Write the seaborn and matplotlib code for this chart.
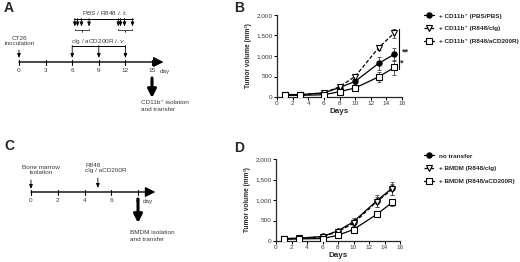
import numpy as np
import pandas as pd
import matplotlib
matplotlib.use("Agg")
import matplotlib.pyplot as plt
import seaborn as sns
from matplotlib.lines import Line2D

sns.set_style("ticks")
plt.rcParams['font.family'] = ['Liberation Sans', 'DejaVu Sans']

# ---------------- data ----------------
days = [1, 3, 6, 8, 10, 13, 15]

b_labels = ["+ CD11b\u207a (PBS/PBS)", "+ CD11b\u207a (R848/cIg)", "+ CD11b\u207a (R848/aCD200R)"]
b_pbs = [60, 60, 100, 230, 380, 820, 1040]
b_pbs_err = [15, 15, 20, 30, 60, 150, 150]
b_cig = [50, 55, 100, 250, 500, 1200, 1560]
b_cig_err = [10, 10, 15, 30, 50, 60, 110]
b_cd200 = [40, 40, 55, 130, 220, 490, 720]
b_cd200_err = [10, 10, 15, 25, 40, 120, 180]

d_labels = ["no transfer", "+ BMDM (R848/cIg)", "+ BMDM (R848/aCD200R)"]
d_none = [60, 70, 110, 250, 470, 980, 1290]
d_none_err = [15, 15, 20, 40, 90, 150, 160]
d_cig = [55, 65, 100, 230, 430, 960, 1260]
d_cig_err = [10, 10, 15, 30, 60, 120, 130]
d_cd200 = [40, 50, 60, 140, 280, 650, 940]
d_cd200_err = [10, 10, 15, 20, 30, 60, 80]

a_ticks = [0, 3, 6, 9, 12, 15]
a_iv_days = [6, 9, 12]
a_it_days = [6.3, 6.6, 7.05, 7.9, 11.2, 11.45, 11.9, 12.8]
c_ticks = [0, 2, 4, 6, 8]

yticks = [0, 500, 1000, 1500, 2000]
ytick_labels = ["0", "500", "1,000", "1,500", "2,000"]
xticks = list(range(0, 17, 2))

W, H = 520, 262
fig = plt.figure(figsize=(W / 100, H / 100), dpi=100)

FS = 4.6
TXT = "#3a3a3a"
markers = ["o", "v", "s"]
mfcs = ["black", "white", "white"]
lss = ["-", (0, (3, 1.6)), "-"]

def px_rect(l, t, r, b):
    return [l / W, 1 - b / H, (r - l) / W, (b - t) / H]

def growth_panel(rect, series, errs, labels, leg_y):
    ax = fig.add_axes(rect)
    for i, (vals, err, lab) in enumerate(zip(series, errs, labels)):
        df = pd.DataFrame({"Days": days, "vol": vals})
        ax.errorbar(days, vals, yerr=err, fmt="none", ecolor="#444444",
                    elinewidth=0.6, capsize=1.5, capthick=0.6, zorder=2)
        sns.lineplot(data=df, x="Days", y="vol", ax=ax, color="black",
                     linewidth=0.9, marker=markers[i], markersize=3.8,
                     markerfacecolor=mfcs[i], markeredgecolor="black",
                     markeredgewidth=0.8, zorder=3)
        ax.lines[-1].set_linestyle(lss[i])
    ax.set_xlim(0, 16)
    ax.set_ylim(0, 2000)
    ax.set_xticks(xticks)
    ax.set_yticks(yticks)
    ax.set_yticklabels(ytick_labels)
    ax.tick_params(labelsize=FS, length=2, width=0.7, pad=1, colors="black",
                   labelcolor=TXT)
    for s in ["left", "bottom"]:
        ax.spines[s].set_linewidth(0.9)
    sns.despine(ax=ax)
    ax.set_xlabel("Days", fontsize=5.8, fontweight="bold", labelpad=1.5)
    ax.set_ylabel("Tumor volume (mm\u00b3)", fontsize=4.7, fontweight="bold", labelpad=3)
    handles = [Line2D([0], [0], color="black", lw=0.9, ls=lss[i], marker=markers[i],
                      markersize=3.8, markerfacecolor=mfcs[i], markeredgecolor="black",
                      markeredgewidth=0.8) for i in range(3)]
    fig.legend(handles, labels, loc="upper left",
               bbox_to_anchor=(421 / W, 1 - leg_y / H), frameon=False,
               prop={"size": 4.6, "weight": "bold"}, handlelength=1.6,
               handletextpad=0.7, labelspacing=1.15, borderpad=0)
    return ax

axB = growth_panel(px_rect(277, 15, 402, 97), [b_pbs, b_cig, b_cd200],
                   [b_pbs_err, b_cig_err, b_cd200_err], b_labels, 10)
axD = growth_panel(px_rect(276, 159, 400, 241), [d_none, d_cig, d_cd200],
                   [d_none_err, d_cig_err, d_cd200_err], d_labels, 150)

# significance marks in B
axB.plot([15.6, 15.6], [1650, 680], color="black", lw=0.8, clip_on=False)
axB.text(16.0, 1100, "**", fontsize=6.5, fontweight="bold", ha="left", va="center")
axB.text(15.75, 830, "*", fontsize=6.5, fontweight="bold", ha="left", va="center")

# ---------------- timelines ----------------
def timeline_axes(rect, d0px, dpx, top, bottom):
    ax = fig.add_axes(rect)
    l = rect[0] * W
    r = (rect[0] + rect[2]) * W
    ax.set_xlim((l - d0px) / dpx, (r - d0px) / dpx)
    ax.set_ylim(bottom, top)
    ax.axis("off")
    return ax

def down_arrow(ax, x, y0, y1, big=False):
    if big:
        ax.annotate("", xy=(x, y1), xytext=(x, y0),
                    arrowprops=dict(arrowstyle="-|>,head_length=0.5,head_width=0.25",
                                    lw=2.2, color="black", shrinkA=0, shrinkB=0))
    else:
        ax.annotate("", xy=(x, y1), xytext=(x, y0),
                    arrowprops=dict(arrowstyle="-|>,head_length=0.25,head_width=0.1",
                                    lw=0.6, color="black", shrinkA=0, shrinkB=0))

# Panel A
axA = timeline_axes([0, 0.5, 0.5, 0.5], 19, 133 / 15, 0, 131)
ya = 62
axA.annotate("", xy=(16.3, ya), xytext=(0, ya),
             arrowprops=dict(arrowstyle="-|>,head_length=0.6,head_width=0.3",
                             lw=1.0, color="black", shrinkA=0, shrinkB=0))
for t in a_ticks:
    axA.plot([t, t], [ya - 2.5, ya + 2.5], color="black", lw=0.8)
    axA.text(t, 71, str(t), fontsize=FS, ha="center", va="center", color=TXT)
axA.text(15.9, 71, "day", fontsize=FS, ha="left", va="center", color=TXT)
axA.text(0.1, 41, "CT26\ninoculation", fontsize=FS, ha="center", va="center",
         color=TXT, linespacing=1.1)
down_arrow(axA, 0, 50, 58)
# i.v.
axA.text(9, 41, "cIg / aCD200R $i.v.$", fontsize=FS, ha="center", va="center", color=TXT)
axA.plot([6, 12], [45.5, 45.5], color="black", lw=0.7)
for d in a_iv_days:
    down_arrow(axA, d, 45.5, 58)
# i.t.
axA.text(9.7, 13, "PBS / R848 $i.t.$", fontsize=FS, ha="center", va="center", color=TXT)
axA.plot([6.2, 12.85], [18.5, 18.5], color="black", lw=0.7)
for d in a_it_days:
    down_arrow(axA, d, 18.5, 26.5)
for g0, g1 in [(6.3, 7.9), (11.2, 12.8)]:
    axA.plot([g0, g0, g1, g1], [28.5, 30, 30, 28.5], color="black", lw=0.5)
    m = (g0 + g1) / 2
    axA.plot([m, m], [30, 32], color="black", lw=0.5)
down_arrow(axA, 15, 78, 98, big=True)
axA.text(13.8, 106, "CD11b\u207a isolation\nand transfer", fontsize=FS, ha="left",
         va="center", color=TXT, linespacing=1.3)
fig.text(4 / W, 1 - 8 / H, "A", fontsize=10, fontweight="bold", ha="left", va="center")

# Panel C
axC = timeline_axes([0, 0, 0.5, 0.5], 31, 107 / 8, 131, 262)
yc = 192
axC.annotate("", xy=(9.3, yc), xytext=(0, yc),
             arrowprops=dict(arrowstyle="-|>,head_length=0.6,head_width=0.3",
                             lw=1.0, color="black", shrinkA=0, shrinkB=0))
for t in c_ticks:
    axC.plot([t, t], [yc - 2.5, yc + 2.5], color="black", lw=0.8)
    axC.text(t, 201, str(t), fontsize=FS, ha="center", va="center", color=TXT)
axC.text(8.35, 201, "day", fontsize=FS, ha="left", va="center", color=TXT)
axC.text(0.75, 170, "Bone marrow\nisolation", fontsize=FS, ha="center", va="center",
         color=TXT, linespacing=1.1)
down_arrow(axC, 0, 180, 189)
axC.text(4.05, 168, "R848\ncIg / aCD200R", fontsize=FS, ha="left", va="center",
         color=TXT, linespacing=1.1)
down_arrow(axC, 5, 178, 188)
down_arrow(axC, 8, 199, 223, big=True)
axC.text(7.4, 236, "BMDM isolation\nand transfer", fontsize=FS, ha="left",
         va="center", color=TXT, linespacing=1.3)
fig.text(4 / W, 1 - 146 / H, "C", fontsize=10, fontweight="bold", ha="left", va="center")

fig.text(234 / W, 1 - 8 / H, "B", fontsize=10, fontweight="bold", ha="left", va="center")
fig.text(234 / W, 1 - 148 / H, "D", fontsize=10, fontweight="bold", ha="left", va="center")

fig.savefig("out.png", dpi=100)
